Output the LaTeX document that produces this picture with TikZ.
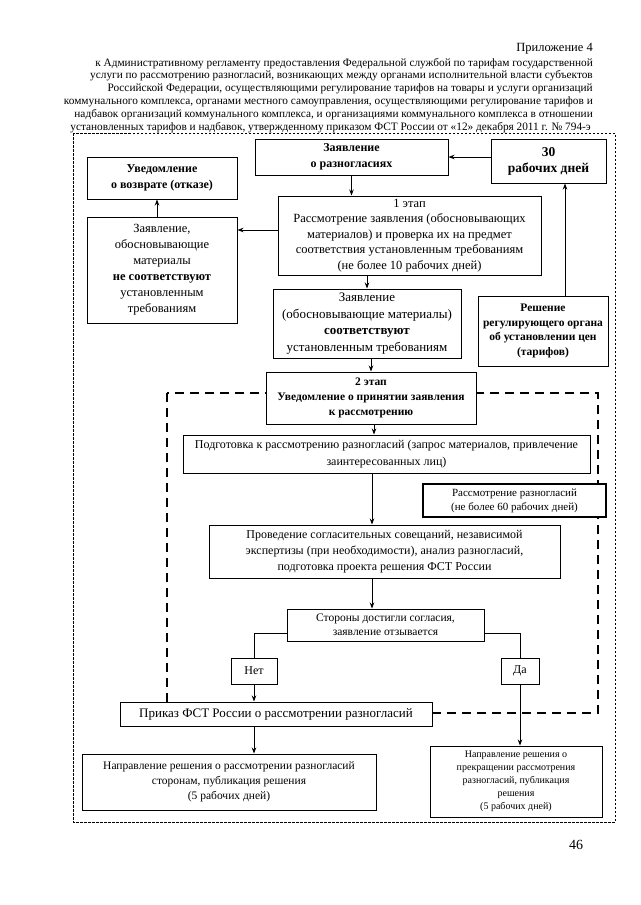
\documentclass[tikz,border=0pt]{standalone}
\usepackage{fontspec}
\setmainfont{Liberation Serif}
\usetikzlibrary{arrows.meta}
\newcommand\fsz[2]{\fontsize{#1}{#2}\selectfont}
\begin{document}
\begin{tikzpicture}[x=1pt,y=-1pt,
  box/.style={draw, line width=1pt, fill=white, align=center, inner sep=1pt},
  arr/.style={-{Stealth[length=6pt,width=4.5pt]}, line width=0.8pt},
  ln/.style={line width=0.8pt},
  outdash/.style={line width=0.7pt, dash pattern=on 2.5pt off 1.5pt},
  bigdash/.style={line width=2.2pt, dash pattern=on 9pt off 6pt},
  hdr/.style={anchor=base east, inner sep=0pt, font=\fsz{11.3}{13}}
]
\fill[white] (0,0) rectangle (640,905);
\useasboundingbox (0,0) rectangle (640,905);

% header
\node[hdr, font=\fsz{12.5}{14}] (h0) at (593,51) {Приложение 4};
\node[hdr] (h1) at (593,66) {к Административному регламенту предоставления Федеральной службой по тарифам государственной};
\node[hdr] (h2) at (593,78.5) {услуги по рассмотрению разногласий, возникающих между органами исполнительной власти субъектов};
\node[hdr] (h3) at (593,91) {Российской Федерации, осуществляющими регулирование тарифов на товары и услуги организаций};
\node[hdr] (h4) at (593,104) {коммунального комплекса, органами местного самоуправления, осуществляющими регулирование тарифов и};
\node[hdr] (h5) at (593,117) {надбавок организаций коммунального комплекса, и организациями коммунального комплекса в отношении};
\node[hdr] (h6) at (591,130) {установленных тарифов и надбавок, утвержденному приказом ФСТ России от «12» декабря 2011 г. № 794-э};

% frames
\draw[outdash] (73,133) rectangle (615,822);
\draw[bigdash] (167,393) rectangle (598,713);

% boxes
\node[box, minimum width=193, minimum height=36, font=\bfseries\fsz{12}{16}] (zr) at (351.5,157) {Заявление\\о разногласиях};
\node[box, minimum width=115, minimum height=44, font=\bfseries\fsz{13.5}{16}] (z30) at (548.5,161) {30\\рабочих дней};
\node[box, minimum width=150, minimum height=42, font=\bfseries\fsz{12}{16}] (uv) at (162,178) {Уведомление\\о возврате (отказе)};
\node[box, minimum width=150, minimum height=106, font=\fsz{12.5}{16}] (nes) at (162,270) {Заявление,\\обосновывающие\\материалы\\\textbf{не соответствуют}\\установленным\\требованиям};
\node[box, minimum width=263, minimum height=79, font=\fsz{12.5}{15.5}] (et1) at (409.5,235.5) {1 этап\\Рассмотрение заявления (обосновывающих\\материалов) и проверка их на предмет\\соответствия установленным требованиям\\(не более 10 рабочих дней)};
\node[box, minimum width=188, minimum height=69, font=\fsz{13}{16.5}] (sootv) at (367,323.5) {Заявление\\(обосновывающие материалы)\\\textbf{соответствуют}\\установленным требованиям};
\node[box, minimum width=130, minimum height=70, font=\bfseries\fsz{11.5}{14.5}] (resh) at (543,331) {Решение\\регулирующего органа\\об установлении цен\\(тарифов)};
\node[box, minimum width=210, minimum height=52, font=\bfseries\fsz{11.5}{15}] (et2) at (371,398) {2 этап\\Уведомление о принятии заявления\\к рассмотрению};
\node[box, minimum width=407, minimum height=38, font=\fsz{12}{17}] (podg) at (386.5,454) {Подготовка к рассмотрению разногласий (запрос материалов, привлечение\\заинтересованных лиц)};
\node[box, line width=2pt, minimum width=183, minimum height=33, font=\fsz{11}{14}] (r60) at (514.5,500.5) {Рассмотрение разногласий\\(не более 60 рабочих дней)};
\node[box, minimum width=351, minimum height=53, font=\fsz{12}{16}] (provd) at (384.5,551.5) {Проведение согласительных совещаний, независимой\\экспертизы (при необходимости), анализ разногласий,\\подготовка проекта решения ФСТ России};
\node[box, minimum width=197, minimum height=32, font=\fsz{11.5}{14}] (sto) at (385.5,625) {Стороны достигли согласия,\\заявление отзывается};
\node[box, minimum width=46, minimum height=26, font=\fsz{12}{14}] (net) at (254,671) {Нет};
\node[box, minimum width=38, minimum height=26, font=\fsz{12}{14}] (da) at (520,671) {Да};
\node[box, minimum width=312, minimum height=24, font=\fsz{13}{15}] (prik) at (276,714) {Приказ ФСТ России о рассмотрении разногласий};
\node[box, minimum width=294, minimum height=56, font=\fsz{11.5}{15}] (napr1) at (229,782) {Направление решения о рассмотрении разногласий\\сторонам, публикация решения\\(5 рабочих дней)};
\node[box, minimum width=172, minimum height=71, font=\fsz{10}{13}] (napr2) at (516,781.5) {Направление решения о\\прекращении рассмотрения\\разногласий, публикация\\решения\\(5 рабочих дней)};

\node[font=\fsz{14}{16}] (pg) at (576,845) {46};

% connectors
\coordinate (cx) at (372,0);
\draw[arr] (z30.west |- zr.east) -- (zr.east);
\draw[arr] ([xshift=22pt]resh.north) -- ([xshift=22pt]resh.north |- z30.south);
\draw[arr] (zr.south) -- (zr.south |- et1.north);
\draw[arr] ([yshift=5.5pt]et1.west) -- ([yshift=5.5pt]et1.west -| nes.east);
\draw[arr] ([xshift=-5pt]nes.north) -- ([xshift=-5pt]uv.south);
\draw[arr] (sootv.north |- et1.south) -- (sootv.north);
\draw[arr] (et2.north |- sootv.south) -- (et2.north);
\draw[arr] ([xshift=3pt]et2.south) -- ([xshift=3pt]et2.south |- podg.north);
\draw[arr] (cx |- podg.south) -- (cx |- provd.north);
\draw[arr] (cx |- provd.south) -- (cx |- sto.north);
\draw[ln] ([yshift=-8pt]sto.west) -| (net.north);
\draw[ln] ([yshift=-8pt]sto.east) -| (da.north);
\draw[arr] (net.south) -- (net.south |- prik.north);
\draw[arr] (da.south) -- (da.south |- napr2.north);
\draw[arr] (net.south |- prik.south) -- (net.south |- napr1.north);
\end{tikzpicture}
\end{document}
